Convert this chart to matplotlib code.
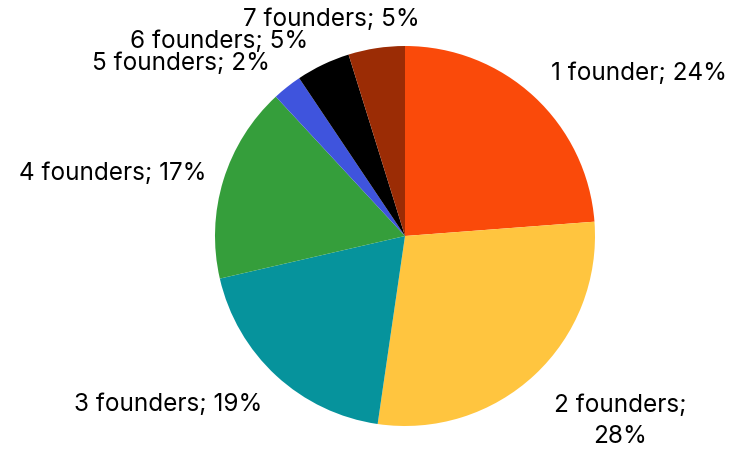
import matplotlib
matplotlib.use("Agg")
import matplotlib.pyplot as plt

# data (shares, labels show rounded values)
labels = ["1 founder; 24%", "2 founders;\n28%", "3 founders; 19%", "4 founders; 17%",
          "5 founders; 2%", "6 founders; 5%", "7 founders; 5%"]
values = [23.8, 28.5, 19.1, 16.7, 2.5, 4.6, 4.8]
colors = ["#FA4A0A", "#FFC53F", "#06939C", "#359E3B", "#3F54DD", "#000000", "#9B2C05"]

# label placement in pixels (x, y, ha)
label_pos = [(551, 73, "left"), (620, 421, "center"), (262, 405, "right"),
             (206, 173, "right"), (270, 63, "right"), (308, 42, "right"), (420, 20, "right")]

W, H = 732, 450
CX, CY, R = 405, 236, 190

plt.rcParams["font.family"] = ["Inter", "DejaVu Sans"]

fig = plt.figure(figsize=(W / 100, H / 100), dpi=100)
ax = fig.add_axes([0, 0, 1, 1])
ax.pie(values, colors=colors, startangle=90, counterclock=False,
       wedgeprops=dict(linewidth=0))
ax.set_xlim(-CX / R, (W - CX) / R)
ax.set_ylim(-(H - CY) / R, CY / R)
ax.set_aspect("equal")
ax.axis("off")

for lab, (px, py, ha) in zip(labels, label_pos):
    ax.text((px - CX) / R, (CY - py) / R, lab, ha=ha, va="center",
            fontsize=17.5, color="black", linespacing=1.4)

fig.savefig("out.png", dpi=100)
